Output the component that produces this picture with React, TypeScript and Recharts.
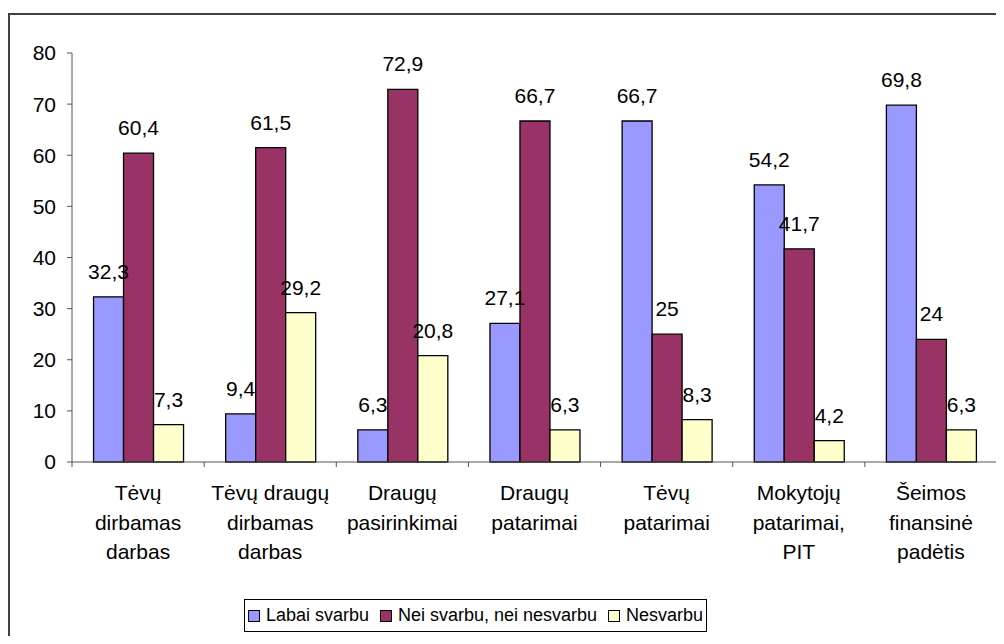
import React from "react";
import { BarChart, Bar, XAxis, YAxis, Legend, LabelList } from "recharts";

// category names, "\n" marks a line break in the axis label
const categories = [
  "Tėvų\ndirbamas\ndarbas",
  "Tėvų draugų\ndirbamas\ndarbas",
  "Draugų\npasirinkimai",
  "Draugų\npatarimai",
  "Tėvų\npatarimai",
  "Mokytojų\npatarimai,\nPIT",
  "Šeimos\nfinansinė\npadėtis",
];

const labaiSvarbu = [32.3, 9.4, 6.3, 27.1, 66.7, 54.2, 69.8];
const neiSvarbu = [60.4, 61.5, 72.9, 66.7, 25, 41.7, 24];
const nesvarbu = [7.3, 29.2, 20.8, 6.3, 8.3, 4.2, 6.3];

const yTicks = [0, 10, 20, 30, 40, 50, 60, 70, 80];

const series = [
  { key: "labai", name: "Labai svarbu", color: "#9999FF" },
  { key: "nei", name: "Nei svarbu, nei nesvarbu", color: "#993366" },
  { key: "nes", name: "Nesvarbu", color: "#FFFFCC" },
];

const data = categories.map((c, i) => ({
  name: c,
  labai: labaiSvarbu[i],
  nei: neiSvarbu[i],
  nes: nesvarbu[i],
}));

const FONT = "'Liberation Sans', Arial, sans-serif";
const AXIS = "#555555";

const fmt = (v: any) => String(v).replace(".", ",");

// multi-line category label + Excel-style tick marks between the categories
const CategoryTick = (props: any) => {
  const { x, y, payload, index } = props;
  const half = payload.offset || 0;
  const lines = String(payload.value).split("\n");
  return (
    <g>
      <line x1={x - half} x2={x - half} y1={y} y2={y + 5} stroke={AXIS} />
      {index === categories.length - 1 && (
        <line x1={x + half} x2={x + half} y1={y} y2={y + 5} stroke={AXIS} />
      )}
      <text x={x} y={y} textAnchor="middle" fontSize={21} fontFamily={FONT} fill="#000">
        {lines.map((l, i) => (
          <tspan key={i} x={x} dy={i === 0 ? 38 : 29.5}>
            {l}
          </tspan>
        ))}
      </text>
    </g>
  );
};

const LegendBox = () => (
  <div
    style={{
      boxSizing: "border-box",
      height: 33,
      width: 463,
      border: "1px solid #000",
      display: "flex",
      alignItems: "center",
      justifyContent: "center",
      gap: 11,
      fontFamily: FONT,
      fontSize: 18,
      color: "#000",
      background: "#fff",
      whiteSpace: "nowrap",
    }}
  >
    {series.map((s) => (
      <span key={s.key} style={{ display: "flex", alignItems: "center", flexShrink: 0 }}>
        <span
          style={{
            display: "inline-block",
            width: 10,
            height: 10,
            background: s.color,
            border: "1px solid #000",
            marginRight: 6,
          }}
        />
        {s.name}
      </span>
    ))}
  </div>
);

export default function App() {
  return (
    <div style={{ position: "relative", width: 996, height: 628, overflow: "hidden", background: "#fff" }}>
      <div
        style={{
          position: "absolute",
          top: 5,
          left: 0,
          width: 2000,
          height: 2000,
          borderTop: "2px solid #404040",
          borderLeft: "2px solid #404040",
        }}
      />
      <div style={{ position: "absolute", top: 0, left: 0 }}>
        <BarChart
          width={996}
          height={628}
          data={data}
          margin={{ top: 45, right: 7, left: 0, bottom: 0 }}
          barCategoryGap="16.3%"
          barGap={0}
        >
          <XAxis
            dataKey="name"
            stroke={AXIS}
            tickLine={false}
            tickSize={0}
            tickMargin={0}
            height={141}
            interval={0}
            tick={<CategoryTick />}
          />
          <YAxis
            width={64}
            domain={[0, 80]}
            ticks={yTicks}
            interval={0}
            tickSize={5}
            tickMargin={11}
            stroke={AXIS}
            tick={{ fill: "#000", fontSize: 21, fontFamily: FONT }}
          />
          <Legend
            content={<LegendBox />}
            wrapperStyle={{ position: "absolute", left: 236, top: 591, width: 463, height: 33 }}
          />
          {series.map((s) => (
            <Bar
              key={s.key}
              dataKey={s.key}
              name={s.name}
              fill={s.color}
              stroke="#000"
              strokeWidth={1.3}
              isAnimationActive={false}
            >
              <LabelList
                dataKey={s.key}
                position="top"
                offset={18}
                formatter={fmt}
                fill="#000"
                fontSize={21}
                fontFamily={FONT}
              />
            </Bar>
          ))}
        </BarChart>
      </div>
    </div>
  );
}
